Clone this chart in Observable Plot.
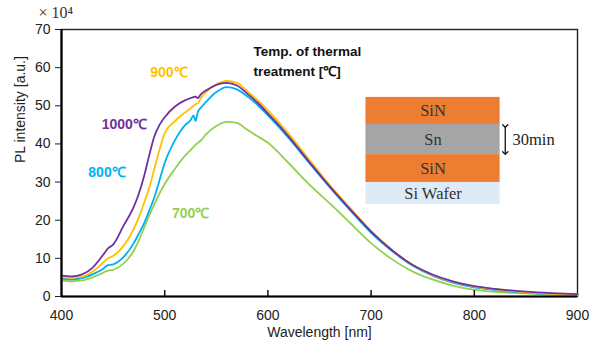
<!DOCTYPE html>
<html>
<head>
<meta charset="utf-8">
<script src="https://cdn.jsdelivr.net/npm/d3@7"></script>
<script src="https://cdn.jsdelivr.net/npm/@observablehq/plot@0.6"></script>
<style>
  html, body { margin: 0; padding: 0; background: #fff; }
  #chart { width: 602px; height: 349px; }
</style>
</head>
<body>
<div id="chart"></div>
<script>
// ---- data ----
const wavelength = [400, 410, 420, 430, 440, 445, 450, 460, 470, 475, 480, 485, 490, 495, 500, 510, 520, 525, 528, 530, 532, 535, 540, 550, 560, 570, 580, 590, 600, 620, 640, 660, 680, 700, 720, 740, 760, 780, 800, 820, 850, 875, 900];

const s1000 = [5.5, 5.3, 5.8, 7.5, 10.8, 12.6, 13.6, 18.5, 23.5, 27.0, 31.5, 37.0, 42.0, 45.0, 47.0, 49.8, 51.5, 52.0, 52.3, 52.4, 52.0, 53.0, 54.0, 55.5, 56.0, 55.3, 53.2, 50.8, 48.0, 42.0, 35.3, 28.8, 22.8, 17.0, 12.2, 8.3, 5.7, 3.9, 2.7, 2.0, 1.3, 0.9, 0.6];
const s900  = [5.1, 4.9, 5.2, 6.5, 8.8, 10.0, 10.6, 13.2, 17.7, 20.8, 24.5, 28.5, 33.5, 38.5, 42.8, 46.0, 48.3, 49.3, 50.0, 50.4, 50.6, 52.0, 53.6, 55.6, 56.5, 56.0, 53.8, 51.5, 48.8, 42.7, 35.9, 29.2, 23.1, 17.2, 12.3, 8.3, 5.6, 3.8, 2.6, 1.9, 1.1, 0.7, 0.5];
const s800  = [4.6, 4.5, 4.8, 5.8, 7.2, 8.2, 8.4, 10.3, 14.0, 16.5, 19.2, 22.5, 26.0, 30.5, 35.0, 41.0, 45.0, 46.2, 47.5, 46.0, 48.3, 49.5, 51.0, 53.6, 54.9, 54.3, 52.5, 50.2, 47.5, 41.6, 35.0, 28.6, 22.5, 16.7, 12.0, 8.1, 5.4, 3.6, 2.4, 1.7, 1.0, 0.6, 0.4];
const s700  = [4.2, 4.0, 4.2, 5.0, 6.2, 6.8, 7.0, 8.6, 12.0, 14.8, 18.0, 21.2, 24.2, 27.0, 29.5, 33.5, 37.0, 38.4, 39.2, 39.8, 40.2, 40.9, 42.5, 44.7, 45.8, 45.5, 43.7, 42.0, 40.3, 35.0, 29.4, 24.4, 19.2, 14.0, 9.8, 6.6, 4.4, 2.8, 1.8, 1.2, 0.8, 0.5, 0.4];

const seriesNames  = ["700℃", "800℃", "900℃", "1000℃"];
const seriesValues = [s700, s800, s900, s1000];
const seriesColors = ["#92D050", "#00B0F0", "#FFC000", "#7030A0"];

// curve label positions (data units)
const labelX = [507, 426, 486, 439];
const labelY = [21.8, 32.5, 58.7, 45.0];

const xTicks = [400, 500, 600, 700, 800, 900];
const xInnerTicks = [500, 600, 700, 800];
const yTicks = [0, 10, 20, 30, 40, 50, 60, 70];

// inset layer diagram (in data units)
const layerNames  = ["SiN", "Sn", "SiN", "Si Wafer"];
const layerTop    = [52.2, 45.1, 37.2, 29.9];
const layerBottom = [45.1, 37.2, 29.9, 24.1];
const layerColors = ["#ED7D31", "#A5A5A5", "#ED7D31", "#DEEAF6"];
const layerX1 = 695, layerX2 = 825;

const legendTitle = "Temp. of thermal\ntreatment [℃]";
const durationLabel = "30min";

// ---- build tables ----
const rows = [];
seriesNames.forEach((name, i) => {
  wavelength.forEach((w, j) => rows.push({series: name, w, v: seriesValues[i][j]}));
});
const labels = seriesNames.map((name, i) => ({name, x: labelX[i], y: labelY[i], color: seriesColors[i]}));
const layers = layerNames.map((name, i) => ({name, top: layerTop[i], bottom: layerBottom[i], color: layerColors[i]}));

const sans = "'Liberation Sans', Arial, sans-serif";
const serif = "'Liberation Serif', 'Times New Roman', serif";

const chart = Plot.plot({
  width: 602,
  height: 349,
  marginLeft: 61,
  marginRight: 25,
  marginTop: 29,
  marginBottom: 53,
  style: {fontFamily: sans, background: "#fff", overflow: "visible"},
  x: {domain: [400, 900]},
  y: {domain: [0, 70]},
  color: {domain: seriesNames, range: seriesColors},
  marks: [
    Plot.frame({stroke: "#222", strokeWidth: 1.4}),
    // layer diagram
    Plot.rect(layers, {x1: layerX1, x2: layerX2, y1: "bottom", y2: "top", fill: "color"}),
    Plot.text(layers, {x: (layerX1 + layerX2) / 2, y: d => (d.top + d.bottom) / 2, text: "name",
      fontFamily: serif, fontSize: 16.5, fill: "#333"}),
    Plot.link([{a: layerTop[1] - 0.4, b: layerBottom[1] + 0.4}], {x1: 830, x2: 830, y1: "a", y2: "b",
      stroke: "#111", strokeWidth: 1.3, markerStart: "arrow", markerEnd: "arrow"}),
    Plot.text([durationLabel], {x: 837, y: (layerTop[1] + layerBottom[1]) / 2, text: d => d,
      textAnchor: "start", fontFamily: serif, fontSize: 16.5, fill: "#222"}),
    // curves
    Plot.line(rows, {x: "w", y: "v", z: "series", stroke: "series", strokeWidth: 1.8, curve: "monotone-x"}),
    // curve labels
    Plot.text(labels, {x: "x", y: "y", text: "name", fill: "color", textAnchor: "start",
      fontWeight: "bold", fontSize: 14}),
    // legend title
    Plot.text([legendTitle], {x: 586, y: 62, text: d => d, textAnchor: "start", fontWeight: "bold",
      fontSize: 13.5, lineHeight: 1.45, fill: "#111"}),
    // axes
    Plot.axisY({ticks: yTicks, tickSize: 6, tickPadding: 5, fontSize: 14, label: null, color: "#222"}),
    Plot.axisX({ticks: xTicks, tickSize: 0, tickPadding: 14, fontSize: 14, label: null, color: "#222"}),
    Plot.axisX({ticks: xInnerTicks, tickSize: 6, dy: -6, tickFormat: () => "", label: null, stroke: "#111", strokeWidth: 1.5}),
    Plot.ruleX([400], {stroke: "#000", strokeWidth: 2.2}),
    Plot.ruleY([0], {stroke: "#000", strokeWidth: 2.2}),
    // axis titles
    Plot.text(["PL intensity [a.u.]"], {frameAnchor: "left", text: d => d, rotate: -90, dx: -41,
      fontSize: 14, fill: "#222"}),
    Plot.text(["Wavelength [nm]"], {frameAnchor: "bottom", text: d => d, dy: 40, fontSize: 14, fill: "#222"}),
    Plot.text(["× 10⁴"], {frameAnchor: "top-left", text: d => d, dx: -23, dy: -23, textAnchor: "start",
      fontFamily: serif, fontSize: 16, fill: "#333"})
  ]
});
document.getElementById("chart").appendChild(chart);
</script>
</body>
</html>
